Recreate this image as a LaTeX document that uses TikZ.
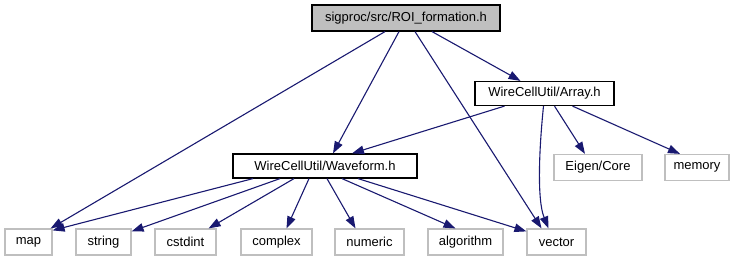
\documentclass[tikz,border=0pt]{standalone}
\usepackage{fontspec}
\setmainfont{Liberation Sans}
\usetikzlibrary{arrows.meta}
\definecolor{edgeblue}{HTML}{191970}
\definecolor{leafgray}{HTML}{BFBFBF}
\begin{document}
\begin{tikzpicture}[x=1pt,y=-1pt,
  every node/.style={font=\fontsize{13}{15.6}\selectfont, inner sep=0pt, line width=1.2pt},
  rootbox/.style={draw=black, fill=leafgray, minimum height=26pt},
  hdrbox/.style={draw=black, fill=white, minimum height=24pt},
  leafbox/.style={draw=leafgray, fill=white, minimum height=26pt},
  dep/.style={draw=edgeblue, line width=1.1pt, -{Triangle[length=12pt,width=8.5pt]}}]
\useasboundingbox (0,0) rectangle (741,261);

% header nodes
\node[rootbox, minimum width=188pt] (roi) at (406,18) {sigproc/src/ROI\_formation.h};
\node[hdrbox, minimum width=139pt] (arr) at (544.5,93.5) {WireCellUtil/Array.h};
\node[hdrbox, minimum width=184pt] (wav) at (325,166) {WireCellUtil/Waveform.h};

% system / library headers
\node[leafbox, minimum width=88pt] (eig) at (598,167.5) {Eigen/Core};
\node[leafbox, minimum width=64pt] (mem) at (697,167.5) {memory};
\node[leafbox, minimum width=47pt] (map) at (28.5,242) {map};
\node[leafbox, minimum width=55pt] (str) at (103.5,242) {string};
\node[leafbox, minimum width=61pt] (cst) at (185.5,242) {cstdint};
\node[leafbox, minimum width=71pt] (cpx) at (276.5,242) {complex};
\node[leafbox, minimum width=69pt] (num) at (369.5,242) {numeric};
\node[leafbox, minimum width=75pt] (alg) at (465.5,242) {algorithm};
\node[leafbox, minimum width=59pt] (vec) at (556.5,242) {vector};

% includes of ROI_formation.h
\draw[dep] ([xshift=-21pt]roi.south) -- ([xshift=-2pt]map.north east);
\draw[dep] ([xshift=-7pt]roi.south) -- ([xshift=8pt]wav.north);
\draw[dep] ([xshift=9pt]roi.south) -- ([xshift=-15pt]vec.north);
\draw[dep] ([xshift=26pt]roi.south) -- ([xshift=-24pt]arr.north);

% includes of Array.h
\draw[dep] ([xshift=-40pt]arr.south) -- ([xshift=27pt]wav.north);
\draw[dep] ([xshift=-1pt]arr.south) .. controls (539,150) and (537,200) .. ([xshift=-8pt]vec.north);
\draw[dep] ([xshift=10pt]arr.south) -- ([xshift=-13pt]eig.north);
\draw[dep] ([xshift=28pt]arr.south) -- ([xshift=-17pt]mem.north);

% includes of Waveform.h
\draw[dep] ([xshift=-72pt]wav.south) -- ([yshift=-2pt]map.north east);
\draw[dep] ([xshift=-45pt]wav.south) -- ([yshift=-3pt]str.north east);
\draw[dep] ([xshift=-31pt]wav.south) -- ([xshift=-8pt]cst.north east);
\draw[dep] ([xshift=-16pt]wav.south) -- ([xshift=10pt]cpx.north);
\draw[dep] ([xshift=2pt]wav.south) -- ([xshift=-14pt]num.north);
\draw[dep] ([xshift=17pt]wav.south) -- ([xshift=-10pt]alg.north);
\draw[dep] ([xshift=33pt]wav.south) -- ([yshift=-3pt]vec.north west);
\end{tikzpicture}
\end{document}
